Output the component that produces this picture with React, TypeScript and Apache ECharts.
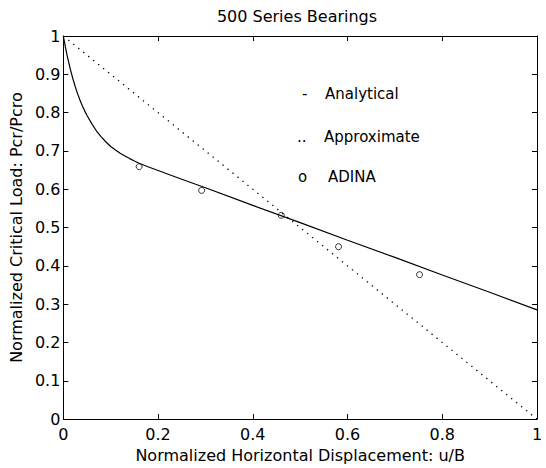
import React, { useEffect, useRef } from "react";
import * as echarts from "echarts";

const titleText = "500 Series Bearings";
const xAxisName = "Normalized Horizontal Displacement: u/B";
const yAxisName = "Normalized Critical Load: Pcr/Pcro";

const analyticalX = [0, 0.0025, 0.005, 0.0075, 0.01, 0.015, 0.02, 0.025, 0.03, 0.035, 0.04, 0.045, 0.05, 0.06, 0.07, 0.08, 0.09, 0.1, 0.11, 0.12, 0.13, 0.14, 0.15, 0.16, 0.18, 0.2, 0.25, 0.3, 0.4, 0.5, 0.6, 0.7, 0.8, 0.9, 1];
const analyticalY = [1, 0.9832, 0.9673, 0.9523, 0.9381, 0.9122, 0.889, 0.8682, 0.8496, 0.833, 0.8181, 0.8046, 0.7924, 0.7714, 0.752, 0.7365, 0.7233, 0.7117, 0.7025, 0.6942, 0.6868, 0.68, 0.6737, 0.6677, 0.658, 0.649, 0.626, 0.604, 0.558, 0.513, 0.467, 0.422, 0.376, 0.331, 0.285];

const approxX = [0, 1];
const approxY = [1, 0];

const adinaX = [0.16, 0.292, 0.46, 0.581, 0.752];
const adinaY = [0.659, 0.597, 0.532, 0.45, 0.377];

const legendMarks = ["-", "..", "o"];
const legendLabels = ["Analytical", "Approximate", "ADINA"];

const FONT = "DejaVu Sans";

export default function App() {
  const ref = useRef<HTMLDivElement>(null);
  useEffect(() => {
    if (!ref.current) return;
    const chart = echarts.init(ref.current, undefined, { renderer: "svg" });
    const zip = (xs: number[], ys: number[]) => xs.map((x, i) => [x, ys[i]]);
    const axisCommon = {
      type: "value" as const,
      min: 0,
      max: 1,
      splitLine: { show: false },
      axisLine: { show: true, onZero: false, lineStyle: { color: "#000", width: 1 } },
      axisTick: { show: true, inside: true, length: 5, lineStyle: { color: "#000", width: 1 } },
    };
    const legendY = [94, 137, 177];
    const legendMarkX = [302, 297, 298];
    const legendTextX = [325, 324, 328];
    const graphics: any[] = [
      {
        type: "text",
        x: 297,
        y: 16,
        style: { text: titleText, font: `16px "${FONT}"`, fill: "#000", textAlign: "center", textVerticalAlign: "middle" },
      },
    ];
    legendLabels.forEach((lab, i) => {
      graphics.push({
        type: "text",
        x: legendMarkX[i],
        y: legendY[i],
        style: { text: legendMarks[i], font: `15px "${FONT}"`, fill: "#000", textAlign: "left", textVerticalAlign: "middle" },
      });
      graphics.push({
        type: "text",
        x: legendTextX[i],
        y: legendY[i],
        style: { text: lab, font: `15px "${FONT}"`, fill: "#000", textAlign: "left", textVerticalAlign: "middle" },
      });
    });
    chart.setOption({
      animation: false,
      backgroundColor: "#fff",
      grid: { left: 57, right: 9, top: 36, bottom: 45, containLabel: false },
      xAxis: [
        {
          ...axisCommon,
          position: "bottom",
          interval: 0.2,
          name: xAxisName,
          nameLocation: "middle",
          nameGap: 19,
          nameTextStyle: { fontFamily: FONT, fontSize: 16, color: "#000" },
          axisLabel: { fontFamily: FONT, fontSize: 16, color: "#000", margin: 7, formatter: (v: number) => String(+v.toFixed(1)) },
        },
        {
          ...axisCommon,
          position: "top",
          interval: 0.2,
          axisLabel: { show: false },
        },
      ],
      yAxis: [
        {
          ...axisCommon,
          position: "left",
          interval: 0.1,
          name: yAxisName,
          nameLocation: "middle",
          nameGap: 30,
          nameTextStyle: { fontFamily: FONT, fontSize: 16, color: "#000" },
          axisLabel: { fontFamily: FONT, fontSize: 16, color: "#000", margin: 3, formatter: (v: number) => String(+v.toFixed(1)) },
        },
        {
          ...axisCommon,
          position: "right",
          interval: 0.1,
          axisLabel: { show: false },
        },
      ],
      graphic: graphics,
      series: [
        {
          name: "Analytical",
          type: "line",
          data: zip(analyticalX, analyticalY),
          showSymbol: false,
          symbol: "none",
          smooth: false,
          lineStyle: { color: "#000", width: 1.2 },
        },
        {
          name: "Approximate",
          type: "line",
          data: zip(approxX, approxY),
          showSymbol: false,
          symbol: "none",
          lineStyle: { color: "#000", width: 1.3, type: [1.3, 5.1] },
        },
        {
          name: "ADINA",
          type: "scatter",
          data: zip(adinaX, adinaY),
          symbol: "circle",
          symbolSize: 6,
          itemStyle: { color: "#fff", borderColor: "#000", borderWidth: 1 },
        },
      ],
    });
    return () => chart.dispose();
  }, []);
  return <div ref={ref} style={{ position: "absolute", left: 0, top: 0, width: 546, height: 468 }} />;
}
